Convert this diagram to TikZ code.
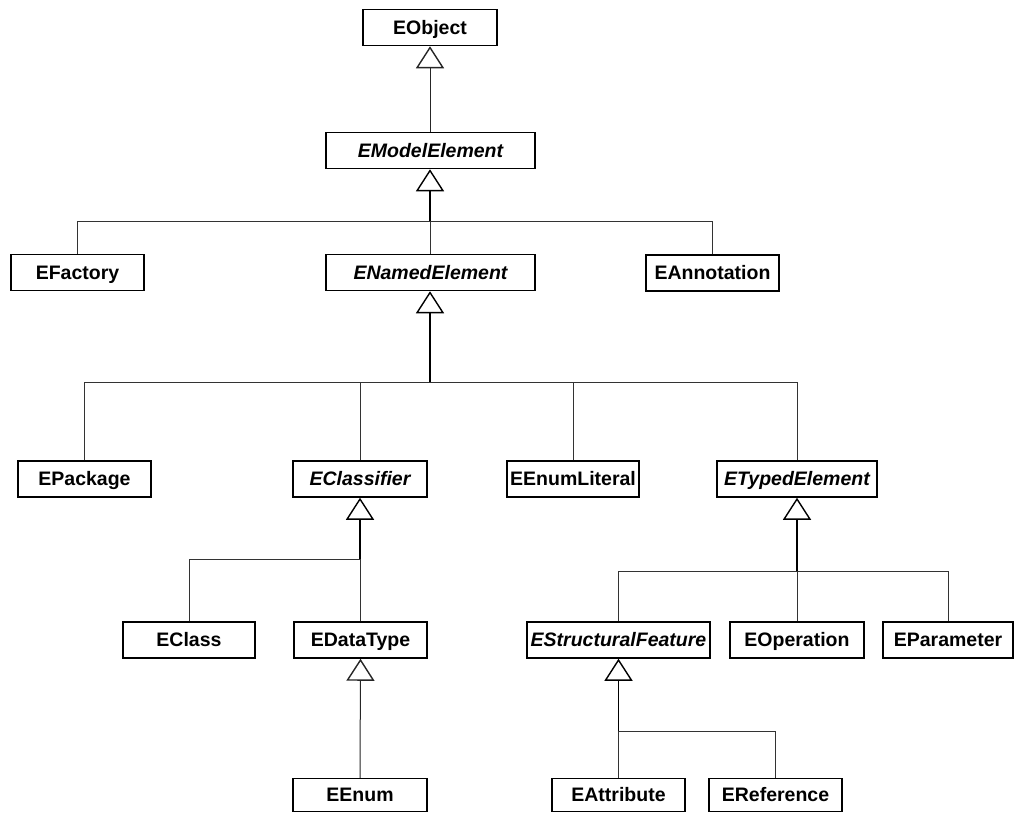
\documentclass[tikz,border=0pt]{standalone}
\usepackage{fontspec}
\setmainfont{Liberation Sans}
\usetikzlibrary{arrows.meta}
\begin{document}
\begin{tikzpicture}[x=1pt,y=-1pt,
  cls/.style={draw=black,line width=1.5pt,fill=white,minimum height=36pt,
    inner sep=0pt,text height=13.8pt,text depth=0pt,
    font=\fontsize{19.5}{22}\selectfont\bfseries},
  abs/.style={cls,font=\fontsize{19.5}{22}\selectfont\bfseries\itshape},
  gentip/.style={-{Triangle[open,length=22pt,width=28pt,line width=1.4pt]}},
  stemline/.style={gentip,draw=black,line width=1.8pt},
  single/.style={gentip,draw=black!85,line width=1pt},
  branch/.style={draw=black!80,line width=1pt}]
\useasboundingbox (0,0) rectangle (1014,812);

% classes
\node[cls,minimum width=134pt] (eobject) at (430,27.5) {EObject};
\node[abs,minimum width=209pt] (emodel) at (430.5,150.5) {EModelElement};
\node[cls,minimum width=133pt] (efactory) at (77.5,272.5) {EFactory};
\node[abs,minimum width=209pt] (enamed) at (430.5,272.5) {ENamedElement};
\node[cls,minimum width=133pt] (eannot) at (712.5,273) {EAnnotation};
\node[cls,minimum width=133pt] (epackage) at (84.5,479) {EPackage};
\node[abs,minimum width=134pt] (eclassifier) at (360,479) {EClassifier};
\node[cls,minimum width=132pt] (eenumlit) at (573,479) {EEnumLiteral};
\node[abs,minimum width=160pt] (etyped) at (797,479) {ETypedElement};
\node[cls,minimum width=132pt] (eclass) at (189,640) {EClass};
\node[cls,minimum width=133pt] (edatatype) at (360.5,640) {EDataType};
\node[abs,minimum width=183pt] (estruct) at (618.5,640) {EStructuralFeature};
\node[cls,minimum width=134pt] (eoperation) at (797,640) {EOperation};
\node[cls,minimum width=130pt] (eparam) at (948,640) {EParameter};
\node[cls,minimum width=134pt,minimum height=33pt] (eenum) at (360,795) {EEnum};
\node[cls,minimum width=133pt,minimum height=33pt] (eattr) at (618.5,795) {EAttribute};
\node[cls,minimum width=133pt,minimum height=33pt] (eref) at (775.5,795) {EReference};

% junction points of the generalization trees
\coordinate (j1) at (430,221);
\coordinate (j2) at (430,382);
\coordinate (j3) at (360,559);
\coordinate (j4) at (797,571);
\coordinate (j5) at (618.5,731);

% single generalizations
\draw[single] (emodel.north -| eobject.south) -- (eobject.south);
\draw[single] (eenum.north) -- (edatatype.south);

% branches into each junction
\draw[branch] (efactory.north) |- (j1);
\draw[branch] (eannot.north) |- (j1);
\draw[branch] (enamed.north -| j1) -- (j1);

\draw[branch] (epackage.north) |- (j2);
\draw[branch] (eclassifier.north) |- (j2);
\draw[branch] (eenumlit.north) |- (j2);
\draw[branch] (etyped.north) |- (j2);

\draw[branch] (eclass.north) |- (j3);
\draw[branch] (edatatype.north) |- (j3);

\draw[branch] (estruct.north) |- (j4);
\draw[branch] (eoperation.north) -- (j4);
\draw[branch] (eparam.north) |- (j4);

\draw[branch] (eattr.north) -- (j5);
\draw[branch] (eref.north) |- (j5);

% shared stems with generalization arrowheads
\draw[stemline] (j1) -- (emodel.south -| j1);
\draw[stemline] (j2) -- (enamed.south -| j2);
\draw[stemline] (j3) -- (eclassifier.south);
\draw[stemline] (j4) -- (etyped.south);
\draw[stemline] (j5) -- (estruct.south -| j5);
\end{tikzpicture}
\end{document}
